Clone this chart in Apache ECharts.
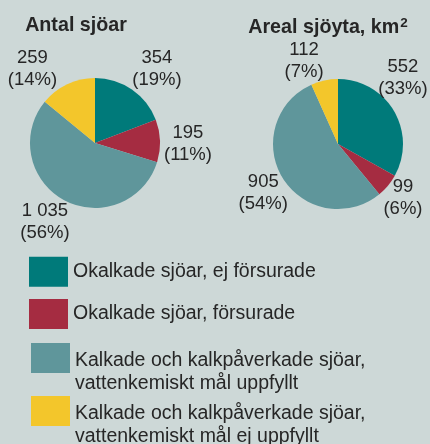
<!DOCTYPE html>
<html>
<head>
<meta charset="utf-8">
<script src="https://cdn.jsdelivr.net/npm/echarts@6/dist/echarts.min.js"></script>
<style>
  html, body { margin: 0; padding: 0; background: #cdd8d7; }
  #main { width: 430px; height: 444px; }
</style>
</head>
<body>
<div id="main"></div>
<script>
// kategorier (legend)
var categories = [
  'Okalkade sjöar, ej försurade',
  'Okalkade sjöar, försurade',
  'Kalkade och kalkpåverkade sjöar,\nvattenkemiskt mål uppfyllt',
  'Kalkade och kalkpåverkade sjöar,\nvattenkemiskt mål ej uppfyllt'
];
var antalSjoar = [354, 195, 1035, 259];
var arealSjoyta = [552, 99, 905, 112];
var colors = ['#007a7a', '#a52c41', '#5f969b', '#f3c62b'];

// små förskjutningar av etiketterna
var leftShift = [[3, 4], [-7, 4], [0, -5], [-17, 12]];
var rightShift = [[-22, -18], [-13, -7], [11, -1], [-9, 10]];

var textColor = '#262626';
var font = '"Liberation Sans", Arial, sans-serif';

function fmt(v) {
  return String(v).replace(/\B(?=(\d{3})+(?!\d))/g, ' ');
}

function makeData(values) {
  return values.map(function (v, i) {
    return { value: v, name: categories[i], itemStyle: { color: colors[i] } };
  });
}

function pieSeries(name, values, center, shift) {
  return {
    name: name,
    type: 'pie',
    center: center,
    radius: 65,
    startAngle: 90,
    clockwise: true,
    avoidLabelOverlap: false,
    itemStyle: { borderWidth: 0 },
    emphasis: { scale: false },
    label: {
      show: true,
      position: 'outside',
      color: textColor,
      fontFamily: font,
      fontSize: 18.5,
      lineHeight: 22,
      formatter: function (p) {
        return fmt(p.value) + '\n(' + Math.round(p.percent) + '%)';
      }
    },
    labelLine: { show: false, length: 30, length2: 0 },
    labelLayout: function (p) {
      var s = shift[p.dataIndex];
      return { align: 'center', dx: s[0], dy: s[1] };
    },
    data: makeData(values)
  };
}

var legendTops = [256.7, 299, 343, 396];
var legendLefts = [29, 29, 31, 31];
var legends = categories.map(function (c, i) {
  return {
    data: [c],
    left: legendLefts[i],
    top: legendTops[i],
    orient: 'vertical',
    padding: 0,
    icon: 'rect',
    itemWidth: 39,
    itemHeight: 30,
    selectedMode: false,
    formatter: function (name) {
      return '{t|' + name + '}';
    },
    textStyle: {
      padding: i > 1 ? [28, 0, 0, 0] : 0,
      rich: {
        t: {
          color: textColor,
          fontFamily: font,
          fontSize: 19.5,
          lineHeight: 23.3
        }
      }
    }
  };
});

var myChart = echarts.init(document.getElementById('main'));
myChart.setOption({
  backgroundColor: '#cdd8d7',
  animation: false,
  title: [
    {
      text: 'Antal sjöar',
      left: 76,
      top: 16,
      textAlign: 'center',
      padding: 0,
      textStyle: { color: textColor, fontFamily: font, fontSize: 19.7, fontWeight: 'bold' }
    },
    {
      text: '{a|Areal sjöyta, km}{s|2}',
      left: 328,
      top: 16,
      textAlign: 'center',
      padding: 0,
      textStyle: {
        rich: {
          a: { color: textColor, fontFamily: font, fontSize: 19.7, fontWeight: 'bold' },
          s: { color: textColor, fontFamily: font, fontSize: 13.5, fontWeight: 'bold', padding: [0, 0, 10, 1] }
        }
      }
    }
  ],
  legend: legends,
  series: [
    pieSeries('Antal sjöar', antalSjoar, [95, 143], leftShift),
    pieSeries('Areal sjöyta', arealSjoyta, [338, 144], rightShift)
  ]
});
</script>
</body>
</html>
